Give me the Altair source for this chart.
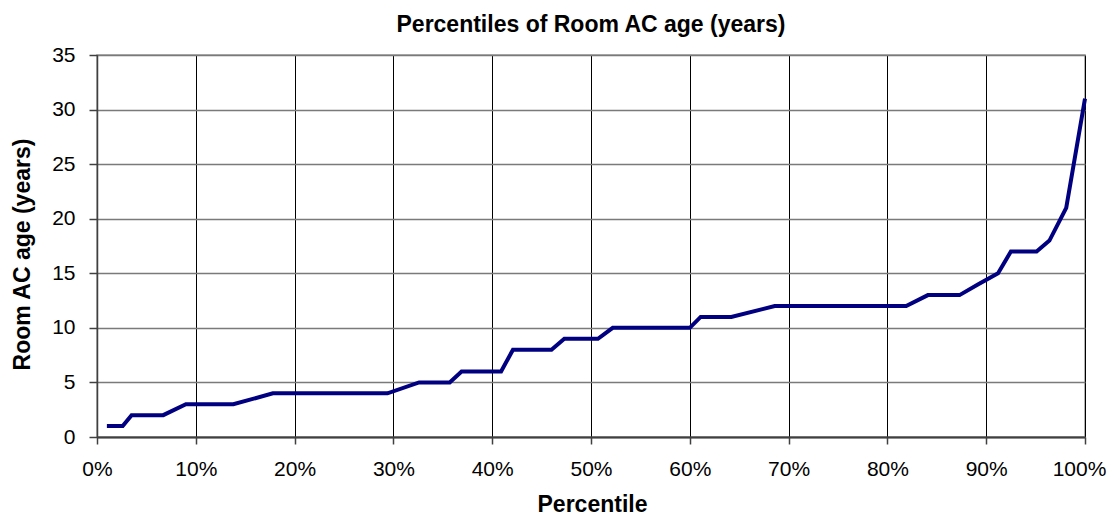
import altair as alt
import pandas as pd

# Percentile (in %) and room AC age (years)
percentile = [1.0, 2.6, 3.5, 6.7, 9.0, 13.8, 17.8, 29.4, 32.6, 35.7, 36.9, 40.9,
              42.1, 46.0, 47.3, 50.7, 52.2, 60.0, 61.1, 64.2, 68.6, 81.9, 84.1,
              87.3, 89.2, 91.2, 92.5, 95.1, 96.4, 98.1, 100.0]
age = [1, 1, 2, 2, 3, 3, 4, 4, 5, 5, 6, 6, 8, 8, 9, 9, 10, 10, 11, 11, 12, 12,
       13, 13, 14, 15, 17, 17, 18, 21, 31]

x_ticks = [0, 0.1, 0.2, 0.3, 0.4, 0.5, 0.6, 0.7, 0.8, 0.9, 1.0]
y_ticks = [0, 5, 10, 15, 20, 25, 30, 35]

df = pd.DataFrame({"percentile": [p / 100 for p in percentile], "age": age})

FONT = "Liberation Sans"

chart = alt.Chart(df).mark_line(color="#000080", strokeWidth=4).encode(
    x=alt.X(
        "percentile:Q",
        scale=alt.Scale(domain=[0, 1], nice=False, zero=False),
        axis=alt.Axis(
            values=x_ticks, format=".0%", title="Percentile",
            grid=True, gridColor="#000000", gridWidth=1,
            domainColor="#404040", domainWidth=2,
            tickColor="#404040", tickWidth=1.5, tickSize=7,
            labelFont=FONT, labelFontSize=21, labelColor="#000000",
            labelPadding=14, labelFlush=False,
            labelOffset=alt.condition("datum.value >= 1", alt.value(-6), alt.value(0)),
            titleFont=FONT, titleFontSize=23, titleFontWeight="bold",
            titleColor="#000000", titleX=495, titleY=74,
            titleBaseline="alphabetic", titleAlign="center",
        ),
    ),
    y=alt.Y(
        "age:Q",
        scale=alt.Scale(domain=[0, 35], nice=False),
        axis=alt.Axis(
            values=y_ticks, title="Room AC age (years)",
            grid=True, gridColor="#7a7a7a", gridWidth=1.5,
            domainColor="#404040", domainWidth=1.5,
            tickColor="#404040", tickWidth=1.5, tickSize=8,
            labelFont=FONT, labelFontSize=21, labelColor="#000000",
            labelPadding=14, labelFlush=False,
            titleFont=FONT, titleFontSize=23, titleFontWeight="bold",
            titleColor="#000000", titleX=-68, titleY=199, titleAngle=270,
            titleBaseline="alphabetic", titleAlign="center",
        ),
    ),
).properties(
    width=988,
    height=382,
    title=alt.TitleParams(
        "Percentiles of Room AC age (years)",
        font=FONT, fontSize=23, fontWeight="bold", color="#000000",
        anchor="middle", baseline="alphabetic", offset=-11,
    ),
    autosize=alt.AutoSizeParams(type="none"),
    padding={"left": 89, "top": 47, "right": 25, "bottom": 80},
).configure_view(stroke="#9a9a9a", strokeWidth=1.5)

chart.save("out.html", embed_options={"renderer": "svg", "actions": False})
